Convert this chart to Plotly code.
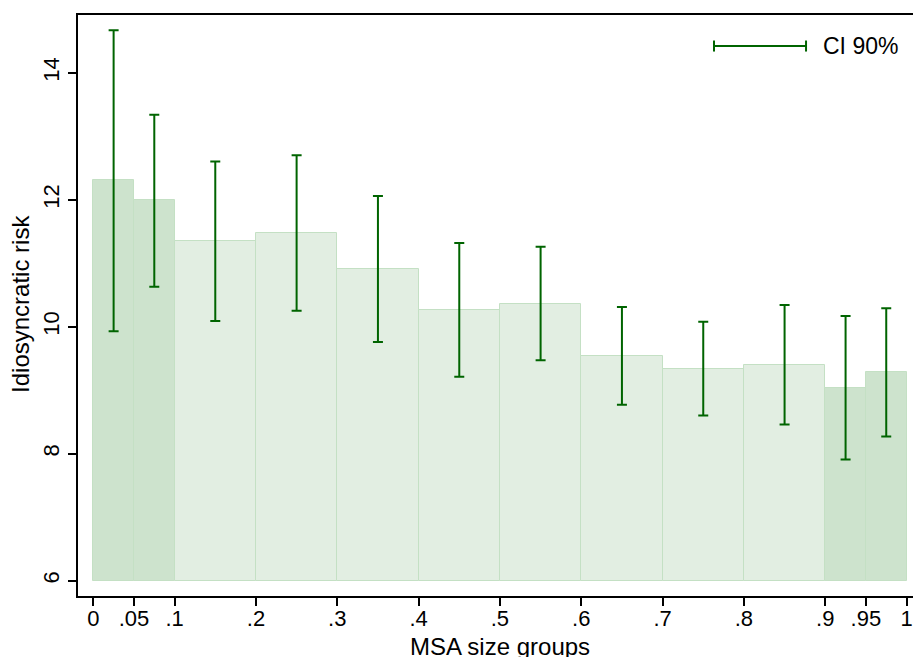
import plotly.graph_objects as go

# Group edges (MSA size quantile groups)
group_lo = [0.0, 0.05, 0.1, 0.2, 0.3, 0.4, 0.5, 0.6, 0.7, 0.8, 0.9, 0.95]
group_hi = [0.05, 0.1, 0.2, 0.3, 0.4, 0.5, 0.6, 0.7, 0.8, 0.9, 0.95, 1.0]
risk = [12.31, 11.99, 11.35, 11.48, 10.91, 10.27, 10.36, 9.54, 9.34, 9.39, 9.04, 9.28]
ci_low = [9.93, 10.63, 10.09, 10.25, 9.76, 9.21, 9.47, 8.77, 8.60, 8.46, 7.91, 8.27]
ci_high = [14.67, 13.34, 12.60, 12.70, 12.06, 11.32, 11.26, 10.31, 10.08, 10.34, 10.17, 10.29]
tail_group = [True, True, False, False, False, False, False, False, False, False, True, True]

x_tickvals = [0, 0.05, 0.1, 0.2, 0.3, 0.4, 0.5, 0.6, 0.7, 0.8, 0.9, 0.95, 1]
x_ticktext = ["0", ".05", ".1", ".2", ".3", ".4", ".5", ".6", ".7", ".8", ".9", ".95", "1"]
y_tickvals = [6, 8, 10, 12, 14]

BASE = 6
mid = [(a + b) / 2 for a, b in zip(group_lo, group_hi)]
wid = [b - a for a, b in zip(group_lo, group_hi)]
DARK = "rgb(205,227,205)"
LIGHT = "rgb(226,238,226)"
EDGE = "rgb(196,224,196)"
ERR = "#006400"
FONT = "Liberation Sans, Arial, sans-serif"

fig = go.Figure()
fig.add_trace(go.Bar(
    x=mid, y=[v - BASE for v in risk], base=BASE, width=wid,
    marker=dict(color=[DARK if t else LIGHT for t in tail_group],
                line=dict(color=EDGE, width=1)),
    showlegend=False, hoverinfo="skip",
))
fig.add_trace(go.Scatter(
    x=mid, y=[(h + l) / 2 for h, l in zip(ci_high, ci_low)], mode="markers",
    marker=dict(opacity=0, size=1, color=ERR),
    error_y=dict(type="data", symmetric=True,
                 array=[(h - l) / 2 for h, l in zip(ci_high, ci_low)],
                 color=ERR, thickness=2, width=5),
    showlegend=False, hoverinfo="skip",
))

# legend key (CI 90%) drawn in paper coordinates
lx0, lx1, ly, cap = 0.7617, 0.8719, 0.9466, 0.0095
fig.add_shape(type="line", xref="paper", yref="paper", x0=lx0, x1=lx1, y0=ly, y1=ly,
              line=dict(color=ERR, width=2))
for lx in (lx0, lx1):
    fig.add_shape(type="line", xref="paper", yref="paper", x0=lx, x1=lx,
                  y0=ly - cap, y1=ly + cap, line=dict(color=ERR, width=2))
fig.add_annotation(xref="paper", yref="paper", x=0.8898, y=ly, xanchor="left",
                   yanchor="middle", text="CI 90%", showarrow=False,
                   font=dict(family=FONT, size=23, color="black"))

# axis titles
fig.add_annotation(xref="paper", yref="paper", x=-0.0683, y=0.5026, xanchor="center",
                   yanchor="middle", textangle=-90, text="Idiosyncratic risk",
                   showarrow=False, font=dict(family=FONT, size=24, color="black"))
fig.add_annotation(xref="paper", yref="paper", x=0.5054, y=-0.0861, xanchor="center",
                   yanchor="middle", text="MSA size groups",
                   showarrow=False, font=dict(family=FONT, size=24, color="black"))

fig.update_layout(
    width=913, height=657,
    margin=dict(l=78, r=0, t=15, b=61),
    plot_bgcolor="white", paper_bgcolor="white",
    bargap=0,
    font=dict(family=FONT, size=22, color="black"),
    xaxis=dict(range=[-0.0188, 1.0079], tickvals=x_tickvals, ticktext=x_ticktext,
               showgrid=False, zeroline=False, showline=True, linecolor="black",
               linewidth=2, mirror=True, ticks="outside", ticklen=8, tickwidth=1.5,
               tickcolor="black", tickfont=dict(size=22), automargin=False,
               ticklabelstandoff=-6),
    yaxis=dict(range=[5.759, 14.909], tickvals=y_tickvals, tickangle=-90,
               showgrid=False, zeroline=False, showline=True, linecolor="black",
               linewidth=2, ticks="outside", ticklen=8, tickwidth=1.5,
               tickcolor="black", tickfont=dict(size=22), automargin=False),
)

fig.write_html("out.html", config={"displayModeBar": False},
               post_script="document.body.style.margin='0';document.body.style.overflow='hidden';")
